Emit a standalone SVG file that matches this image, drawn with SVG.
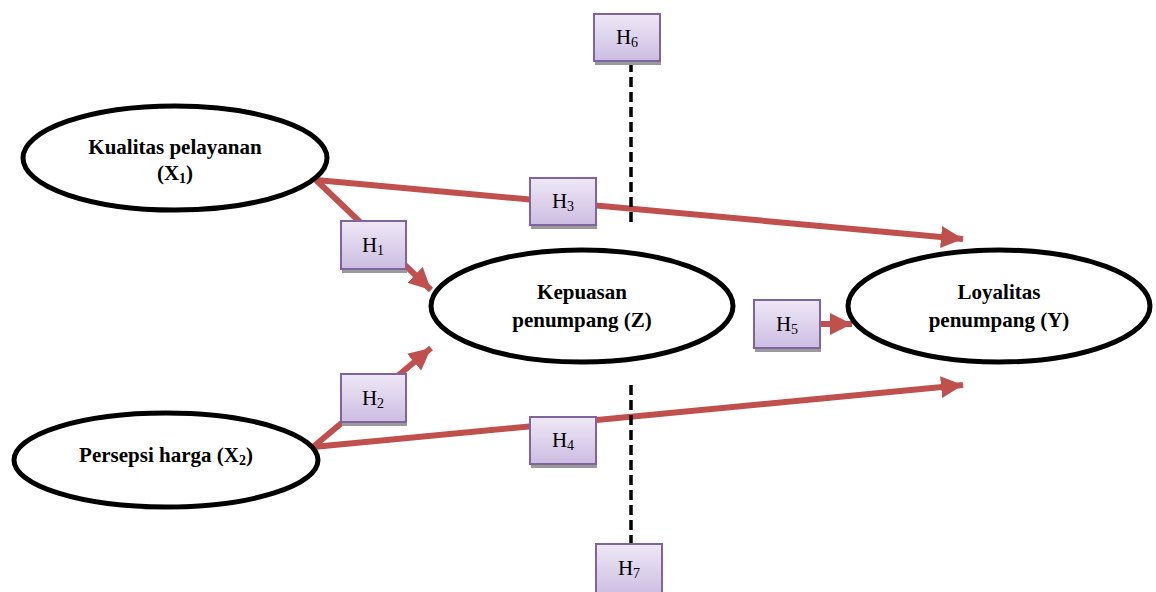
<svg xmlns="http://www.w3.org/2000/svg" width="1156" height="592" viewBox="0 0 1156 592">
<defs>
<linearGradient id="boxg" x1="0" y1="0" x2="0" y2="1">
<stop offset="0" stop-color="#EEE8F6"/>
<stop offset="1" stop-color="#CDBDE2"/>
</linearGradient>
<marker id="ah" markerUnits="userSpaceOnUse" markerWidth="24" markerHeight="22" refX="22" refY="11" orient="auto">
<path d="M0,0 L22,11 L0,22 Z" fill="#C0504D"/>
</marker>
</defs>
<style>
.ell{fill:#fff;stroke:#000;stroke-width:5}
.lbl{font-family:"Liberation Serif","Times New Roman",serif;font-weight:bold;font-size:21px;fill:#000;text-anchor:middle}
.conn{stroke:#C0504D;stroke-width:6;fill:none}
.dash{stroke:#000;stroke-width:3.5;stroke-dasharray:10 5;fill:none}
.box{fill:url(#boxg);stroke:#8064A2;stroke-width:2}
.shadow{fill:#9a9a9a}
.h{font-family:"Liberation Serif","Times New Roman",serif;font-size:21px;fill:#000;text-anchor:middle}
.sub{font-size:14px}
</style>
<g id="connectors">
<line class="conn" x1="316" y1="180" x2="963" y2="239" marker-end="url(#ah)"/>
<line class="conn" x1="316" y1="180" x2="431" y2="290" marker-end="url(#ah)"/>
<line class="conn" x1="313" y1="447" x2="431" y2="348" marker-end="url(#ah)"/>
<line class="conn" x1="313" y1="447" x2="963" y2="385" marker-end="url(#ah)"/>
<line class="conn" x1="818" y1="324" x2="852" y2="324" marker-end="url(#ah)"/>
<line class="dash" x1="631" y1="62" x2="631" y2="223"/>
<line class="dash" x1="631" y1="385" x2="631" y2="544"/>
</g>
<g id="node-x1">
<ellipse class="ell" cx="175" cy="158" rx="152" ry="52"/>
<text class="lbl" x="175" y="154">Kualitas pelayanan</text>
<text class="lbl" x="175" y="180">(X<tspan class="sub" dy="3">1</tspan><tspan dy="-3">)</tspan></text>
</g>
<g id="node-x2">
<ellipse class="ell" cx="166" cy="460" rx="152" ry="47"/>
<text class="lbl" x="166" y="462">Persepsi harga (X<tspan class="sub" dy="3">2</tspan><tspan dy="-3">)</tspan></text>
</g>
<g id="node-z">
<ellipse class="ell" cx="582" cy="306" rx="151" ry="56"/>
<text class="lbl" x="582" y="299">Kepuasan</text>
<text class="lbl" x="582" y="327">penumpang (Z)</text>
</g>
<g id="node-y">
<ellipse class="ell" cx="999" cy="306" rx="151" ry="56"/>
<text class="lbl" x="999" y="299">Loyalitas</text>
<text class="lbl" x="999" y="327">penumpang (Y)</text>
</g>
<g id="h1">
<rect class="shadow" x="342" y="225" width="65" height="48"/>
<rect class="box" x="341" y="221" width="65" height="48"/>
<text class="h" x="373" y="252">H<tspan class="sub" dy="3">1</tspan></text>
</g>
<g id="h2">
<rect class="shadow" x="342" y="378" width="65" height="48"/>
<rect class="box" x="341" y="374" width="65" height="48"/>
<text class="h" x="373" y="405">H<tspan class="sub" dy="3">2</tspan></text>
</g>
<g id="h3">
<rect class="shadow" x="531" y="182" width="66" height="47"/>
<rect class="box" x="530" y="178" width="66" height="47"/>
<text class="h" x="563" y="208">H<tspan class="sub" dy="3">3</tspan></text>
</g>
<g id="h4">
<rect class="shadow" x="531" y="421" width="66" height="47"/>
<rect class="box" x="530" y="417" width="66" height="47"/>
<text class="h" x="563" y="447">H<tspan class="sub" dy="3">4</tspan></text>
</g>
<g id="h5">
<rect class="shadow" x="755" y="304" width="66" height="48"/>
<rect class="box" x="754" y="300" width="66" height="48"/>
<text class="h" x="787" y="331">H<tspan class="sub" dy="3">5</tspan></text>
</g>
<g id="h6">
<rect class="shadow" x="595" y="18" width="66" height="47"/>
<rect class="box" x="594" y="14" width="66" height="47"/>
<text class="h" x="627" y="44">H<tspan class="sub" dy="3">6</tspan></text>
</g>
<g id="h7">
<rect class="box" x="596" y="544" width="66" height="52"/>
<text class="h" x="629" y="575">H<tspan class="sub" dy="3">7</tspan></text>
</g>
</svg>
